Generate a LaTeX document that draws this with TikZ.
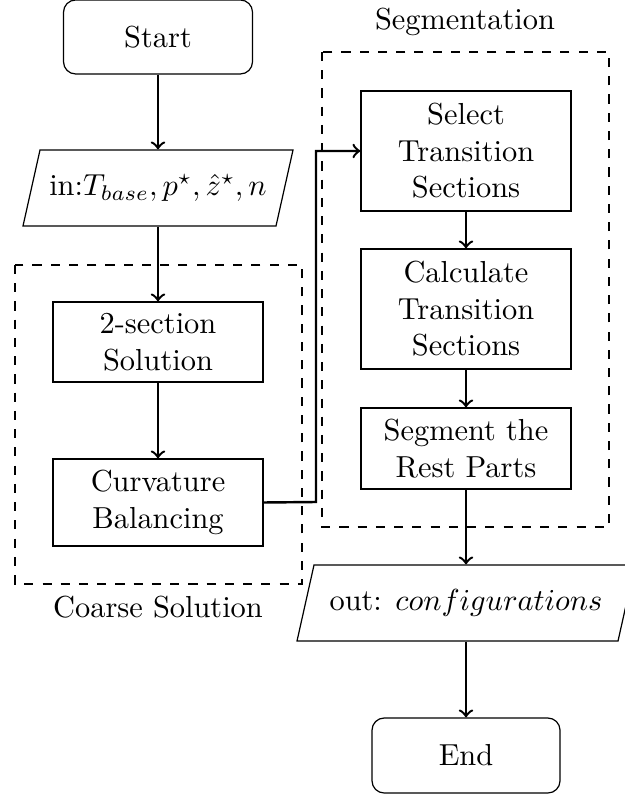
\documentclass[tikz,border=0pt]{standalone}
\usetikzlibrary{calc}
\newlength\pxu
\setlength\pxu{0.329pt}
\begin{document}
\begin{tikzpicture}[x={(0.329pt,0pt)},y={(0pt,-0.329pt)},
  box/.style={draw,rectangle,align=center,minimum width=210\pxu,inner sep=0pt},
  term/.style={draw,rectangle,rounded corners=4pt,align=center,inner sep=0pt},
  io/.style={rectangle,align=center,inner sep=0pt},
  grp/.style={draw,dashed},
  flow/.style={->,thick},
  lbl/.style={align=center,inner sep=0pt}]
\useasboundingbox (0,0) rectangle (624,799);
% terminals
\node[term,minimum width=189\pxu,minimum height=74\pxu] (start) at (158,37) {Start};
\node[term,minimum width=188\pxu,minimum height=75\pxu] (end) at (466,755.5) {End};
% input / output
\node[io,minimum width=236\pxu,minimum height=76\pxu] (in) at (158,188) {in:$T_{base},p^{\star},\hat{z}^{\star},n$};
\draw (40,150) -- (293,150) -- (276,226) -- (23,226) -- cycle;
\node[io,minimum width=304\pxu,minimum height=76\pxu] (out) at (466,603) {out: $configurations$};
\draw (314,565) -- (635,565) -- (618,641) -- (297,641) -- cycle;
% coarse solution
\draw[grp] (15,265) rectangle (302,584);
\node[lbl] (lcoarse) at (158,607) {Coarse Solution};
\node[box,minimum height=80\pxu] (two) at (158,342) {2-section\\Solution};
\node[box,minimum height=87\pxu] (curv) at (158,502.5) {Curvature\\Balancing};
% segmentation
\draw[grp] (322,52) rectangle (609,527);
\node[lbl] (lseg) at (465,22) {Segmentation};
\node[box,minimum height=120\pxu] (select) at (466,151) {Select\\Transition\\Sections};
\node[box,minimum height=120\pxu] (calc) at (466,309) {Calculate\\Transition\\Sections};
\node[box,minimum height=81\pxu] (segm) at (466,448.5) {Segment the\\Rest Parts};
\coordinate (c1) at (316,502);
\coordinate (c2) at (316,151);
% connectors
\draw[flow] (start) -- (in);
\draw[flow] (in) -- (two);
\draw[flow] (two) -- (curv);
\draw[flow] (curv.east) -- (c1) -- (c2) -- (select.west);
\draw[flow] (select) -- (calc);
\draw[flow] (calc) -- (segm);
\draw[flow] (segm) -- (out);
\draw[flow] (out) -- (end);
\end{tikzpicture}
\end{document}
